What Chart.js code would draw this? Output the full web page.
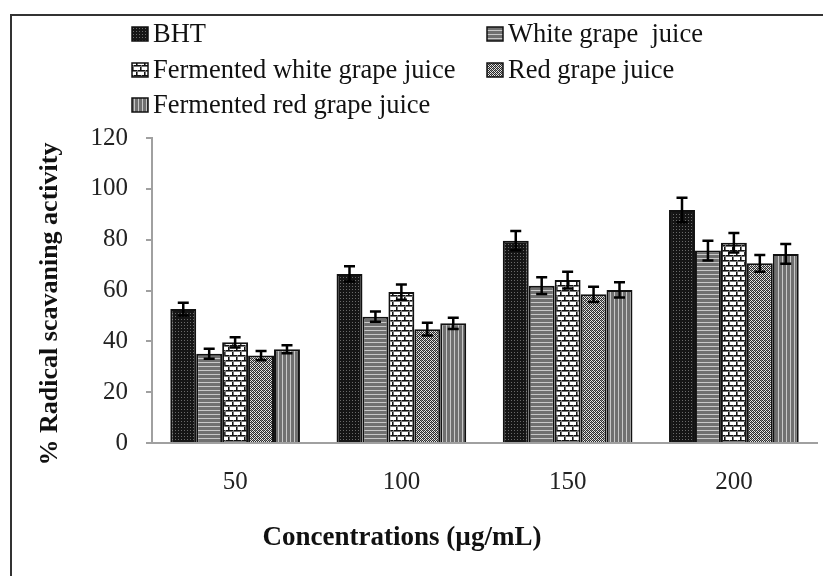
<!DOCTYPE html>
<html>
<head>
<meta charset="utf-8">
<script src="https://cdn.jsdelivr.net/npm/chart.js@4.4.0/dist/chart.umd.min.js"></script>
<style>
html, body { margin: 0; padding: 0; background: #fff; overflow: hidden; }
#wrap { position: relative; width: 823px; height: 576px; }
#frame { position: absolute; left: 10px; top: 14px; width: 840px; height: 620px; border: 2px solid #333; pointer-events: none; }
</style>
</head>
<body>
<div id="wrap">
  <canvas id="radicalChart" width="823" height="576"></canvas>
  <div id="frame"></div>
</div>
<script>
// concentrations (µg/mL)
var concentrations = ['50', '100', '150', '200'];

// % radical scavenging activity
var bht        = [52.7, 66.5, 79.6, 91.7];
var whiteJuice = [35.1, 49.7, 61.9, 75.7];
var fermWhite  = [39.6, 59.4, 64.1, 78.8];
var redJuice   = [34.4, 44.8, 58.5, 70.7];
var fermRed    = [36.9, 47.1, 60.2, 74.4];

// error bar half-lengths
var bhtErr        = [2.5, 3.0, 3.8, 4.8];
var whiteJuiceErr = [2.0, 2.0, 3.3, 3.9];
var fermWhiteErr  = [2.0, 3.0, 3.3, 3.8];
var redJuiceErr   = [1.8, 2.5, 3.0, 3.3];
var fermRedErr    = [1.6, 2.2, 3.0, 3.9];

var seriesNames = ['BHT', 'White grape  juice', 'Fermented white grape juice', 'Red grape juice', 'Fermented red grape juice'];
var xTitle = 'Concentrations (µg/mL)';
var yTitle = '% Radical scavaning activity';

var serif = '"Liberation Serif", "Times New Roman", serif';

function makePattern(w, h, draw) {
  var c = document.createElement('canvas');
  c.width = w;
  c.height = h;
  var g = c.getContext('2d');
  draw(g);
  return g.createPattern(c, 'repeat');
}

// dark dotted
var patBHT = makePattern(3, 3, function (g) {
  g.fillStyle = '#151515';
  g.fillRect(0, 0, 3, 3);
  g.fillStyle = '#6a6a6a';
  g.fillRect(1, 1, 1, 1);
});
// horizontal lines
var patHoriz = makePattern(1, 4, function (g) {
  g.fillStyle = '#707070';
  g.fillRect(0, 0, 1, 4);
  g.fillStyle = '#c8c8c8';
  g.fillRect(0, 2, 1, 1);
});
// bricks, thin mortar
var patBrick = makePattern(16, 10, function (g) {
  g.fillStyle = '#fff';
  g.fillRect(0, 0, 16, 10);
  g.fillStyle = '#111';
  g.fillRect(0, 0, 16, 1);
  g.fillRect(0, 5, 16, 1);
  g.fillRect(0, 0, 1, 5);
  g.fillRect(8, 0, 1, 5);
  g.fillRect(4, 5, 1, 5);
  g.fillRect(12, 5, 1, 5);
  g.fillStyle = '#777';
  g.fillRect(0, 1, 16, 1);
  g.fillRect(0, 6, 16, 1);
  g.fillRect(1, 0, 1, 5);
  g.fillRect(9, 0, 1, 5);
  g.fillRect(5, 5, 1, 5);
  g.fillRect(13, 5, 1, 5);
});
// fine checker
var patCheck = makePattern(4, 4, function (g) {
  g.fillStyle = '#e6e6e6';
  g.fillRect(0, 0, 4, 4);
  g.fillStyle = '#2a2a2a';
  g.fillRect(0, 0, 1, 1);
  g.fillRect(2, 0, 1, 1);
  g.fillRect(1, 1, 1, 1);
  g.fillRect(3, 1, 1, 1);
  g.fillRect(0, 2, 1, 1);
  g.fillRect(2, 2, 1, 1);
  g.fillRect(1, 3, 1, 1);
  g.fillRect(3, 3, 1, 1);
  g.fillStyle = '#888';
  g.fillRect(1, 0, 1, 1);
  g.fillRect(3, 2, 1, 1);
});
// vertical lines
var patVert = makePattern(4, 1, function (g) {
  g.fillStyle = '#707070';
  g.fillRect(0, 0, 4, 1);
  g.fillStyle = '#c8c8c8';
  g.fillRect(2, 0, 1, 1);
});

function makeSet(i, values, errs, pat) {
  return {
    label: seriesNames[i],
    data: values,
    errors: errs,
    backgroundColor: pat,
    borderColor: '#111',
    borderWidth: 2,
    categoryPercentage: 0.78,
    barPercentage: 1
  };
}

var errorBars = {
  id: 'errorBars',
  afterDatasetsDraw: function (chart) {
    var ctx = chart.ctx;
    var y = chart.scales.y;
    ctx.save();
    ctx.strokeStyle = '#000';
    ctx.lineWidth = 2.5;
    chart.data.datasets.forEach(function (ds, i) {
      chart.getDatasetMeta(i).data.forEach(function (bar, j) {
        var top = y.getPixelForValue(ds.data[j] + ds.errors[j]);
        var bot = y.getPixelForValue(ds.data[j] - ds.errors[j]);
        ctx.beginPath();
        ctx.moveTo(bar.x, top);
        ctx.lineTo(bar.x, bot);
        ctx.moveTo(bar.x - 5.5, top);
        ctx.lineTo(bar.x + 5.5, top);
        ctx.moveTo(bar.x - 5.5, bot);
        ctx.lineTo(bar.x + 5.5, bot);
        ctx.stroke();
      });
    });
    ctx.restore();
  }
};

// two column legend like the original
var legendBlock = {
  id: 'legendBlock',
  afterDraw: function (chart) {
    var ctx = chart.ctx;
    var cols = [132, 487];
    var rows = [34, 70, 105];
    ctx.save();
    ctx.font = '26.5px ' + serif;
    ctx.textBaseline = 'middle';
    chart.data.datasets.forEach(function (ds, i) {
      var x = cols[i % 2];
      var yy = rows[Math.floor(i / 2)];
      ctx.fillStyle = ds.backgroundColor;
      ctx.fillRect(x, yy - 7, 16, 14);
      ctx.strokeStyle = '#111';
      ctx.lineWidth = 1.5;
      ctx.strokeRect(x, yy - 7, 16, 14);
      ctx.fillStyle = '#111';
      ctx.fillText(ds.label, x + 21, yy + 1);
    });
    ctx.restore();
  }
};

// axis titles, placed off-centre as in the original figure
var axisTitles = {
  id: 'axisTitles',
  afterDraw: function (chart) {
    var ctx = chart.ctx;
    var a = chart.chartArea;
    ctx.save();
    ctx.fillStyle = '#111';
    ctx.textAlign = 'center';
    ctx.textBaseline = 'middle';
    ctx.font = 'bold 27px ' + serif;
    ctx.fillText(xTitle, a.left + 250, a.bottom + 95);
    ctx.translate(50, a.top + 166);
    ctx.rotate(-Math.PI / 2);
    ctx.font = 'bold 26px ' + serif;
    ctx.fillText(yTitle, 0, 0);
    ctx.restore();
  }
};

var ctx = document.getElementById('radicalChart');
var radicalChart = new Chart(ctx, {
  type: 'bar',
  data: {
    labels: concentrations,
    datasets: [
      makeSet(0, bht, bhtErr, patBHT),
      makeSet(1, whiteJuice, whiteJuiceErr, patHoriz),
      makeSet(2, fermWhite, fermWhiteErr, patBrick),
      makeSet(3, redJuice, redJuiceErr, patCheck),
      makeSet(4, fermRed, fermRedErr, patVert)
    ]
  },
  options: {
    responsive: false,
    animation: false,
    devicePixelRatio: 1,
    layout: { padding: { top: 138, right: 6, left: 0, bottom: 0 } },
    plugins: {
      legend: { display: false },
      tooltip: { enabled: false }
    },
    scales: {
      x: {
        grid: { display: false, drawTicks: false },
        border: { display: true, color: '#a0a0a0', width: 2 },
        ticks: { color: '#222', font: { family: serif, size: 25 }, padding: 24 },
        afterFit: function (s) { s.height = 133; }
      },
      y: {
        min: 0,
        max: 120,
        grid: { drawOnChartArea: false, drawTicks: true, tickLength: 6, color: '#a0a0a0', lineWidth: 2 },
        border: { display: true, color: '#a0a0a0', width: 2 },
        ticks: { stepSize: 20, color: '#222', font: { family: serif, size: 25 }, padding: 18 },
        afterFit: function (s) { s.width = 152; }
      }
    }
  },
  plugins: [errorBars, legendBlock, axisTitles]
});
</script>
</body>
</html>
